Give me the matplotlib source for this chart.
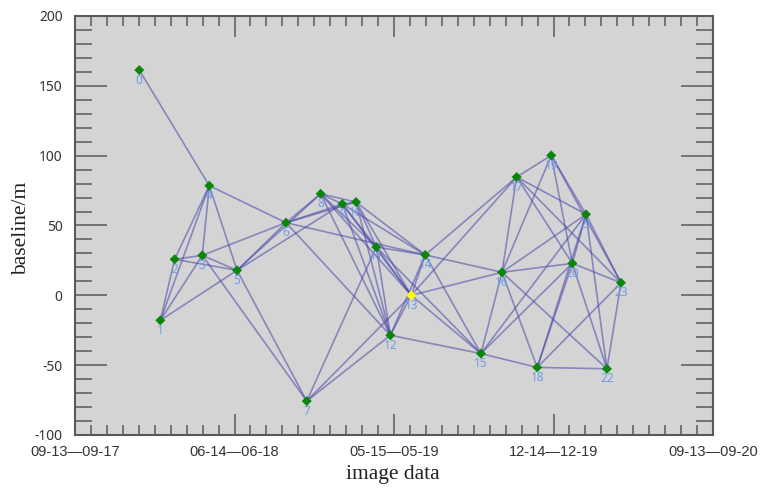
import matplotlib
matplotlib.use('Agg')
import matplotlib.pyplot as plt
from matplotlib.ticker import MultipleLocator

plt.rcParams['axes.unicode_minus'] = False

# acquisition position along the time axis (axis units) and perpendicular baseline (m)
acq_x = [4.03, 5.35, 6.25, 7.98, 8.42, 10.16, 13.23, 14.53, 15.40, 16.76, 17.62, 18.89,
         19.77, 21.08, 21.96, 25.45, 26.77, 27.69, 28.98, 29.86, 31.18, 32.04, 33.35, 34.23]
baseline = [161.3, -17.9, 25.8, 28.6, 78.5, 17.9, 52.0, -75.7, 72.7, 65.4, 66.8, 34.6,
            -28.6, 0.0, 28.9, -41.7, 16.5, 84.7, -51.6, 100.2, 22.9, 58.0, -52.6, 9.0]
reference_index = 13

pairs = [
    (0, 4),
    (1, 2), (1, 3), (1, 4), (1, 5),
    (2, 3), (2, 4), (2, 5),
    (3, 4), (3, 5), (3, 6), (3, 7),
    (4, 5), (4, 6),
    (5, 6), (5, 7), (5, 8), (5, 9),
    (6, 8), (6, 9), (6, 10), (6, 12), (6, 14),
    (7, 11), (7, 12), (7, 13),
    (8, 9), (8, 10), (8, 11), (8, 12), (8, 13),
    (9, 10), (9, 11), (9, 12), (9, 13), (9, 14),
    (10, 11), (10, 12), (10, 13), (10, 14),
    (11, 12), (11, 13), (11, 14), (11, 15),
    (12, 13), (12, 14), (12, 15),
    (13, 14), (13, 15), (13, 16), (13, 17),
    (14, 15), (14, 16), (14, 17),
    (15, 16), (15, 18), (15, 20), (15, 21),
    (16, 17), (16, 18), (16, 19), (16, 20), (16, 21), (16, 22),
    (17, 19), (17, 20), (17, 21), (17, 23),
    (18, 20), (18, 21), (18, 22), (18, 23),
    (19, 20), (19, 21), (19, 23),
    (20, 21), (20, 22), (20, 23),
    (21, 22), (21, 23),
    (22, 23),
]

x_tick_pos = [0, 10, 20, 30, 40]
x_tick_labels = ['09-13\u201409-17', '06-14\u201406-18', '05-15\u201405-19',
                 '12-14\u201412-19', '09-13\u201409-20']
y_tick_pos = [-100, -50, 0, 50, 100, 150, 200]
y_tick_labels = ['-100', '-50', '0', '50', '100', '150', '200']

fig = plt.figure(figsize=(7.63, 4.88), dpi=100)
ax = fig.add_axes([75 / 763, 1 - 435 / 488, 638 / 763, 419 / 488])
ax.set_facecolor('#d4d4d4')

for i, j in pairs:
    ax.plot([acq_x[i], acq_x[j]], [baseline[i], baseline[j]],
            color='#4646a8', alpha=0.55, lw=1.2, zorder=2, solid_capstyle='round')

colors = ['#ffff00' if k == reference_index else '#0a860a' for k in range(len(acq_x))]
ax.scatter(acq_x, baseline, marker='D', s=26, c=colors, edgecolors='none', zorder=3)

for k, (xx, yy) in enumerate(zip(acq_x, baseline)):
    ax.annotate(str(k), (xx, yy), xytext=(0, -2.5), textcoords='offset points',
                ha='center', va='top', fontsize=8.5, color='#6f9be8',
                family='Noto Sans', zorder=4)

ax.set_xlim(0, 40)
ax.set_ylim(-100, 200)
ax.set_xticks(x_tick_pos)
ax.set_xticklabels(x_tick_labels, family='Liberation Sans', fontsize=10.5, color='#333333')
ax.set_yticks(y_tick_pos)
ax.set_yticklabels(y_tick_labels, family='Noto Sans', fontsize=10, color='#333333')
ax.xaxis.set_minor_locator(MultipleLocator(1))
ax.yaxis.set_minor_locator(MultipleLocator(10))

tc = '#5a5a5a'
ax.tick_params(axis='x', which='major', direction='in', length=15, width=1.1,
               color=tc, top=True, bottom=True, pad=7)
ax.tick_params(axis='x', which='minor', direction='in', length=7.5, width=1.1,
               color=tc, top=True, bottom=True)
ax.tick_params(axis='y', which='major', direction='in', length=23, width=1.1,
               color=tc, left=True, right=True, pad=9)
ax.tick_params(axis='y', which='minor', direction='in', length=12, width=1.1,
               color=tc, left=True, right=True)

for s in ax.spines.values():
    s.set_color(tc)
    s.set_linewidth(1.5)

fig.text(393 / 763, 1 - 474 / 488, 'image data', family='Liberation Serif',
         fontsize=15.5, ha='center', va='center', color='#222222')
fig.text(22 / 763, 1 - 228 / 488, 'baseline/m', family='Liberation Serif',
         fontsize=15.5, ha='center', va='center', rotation=90, color='#222222')

fig.savefig('out.png', dpi=100, facecolor='white')
